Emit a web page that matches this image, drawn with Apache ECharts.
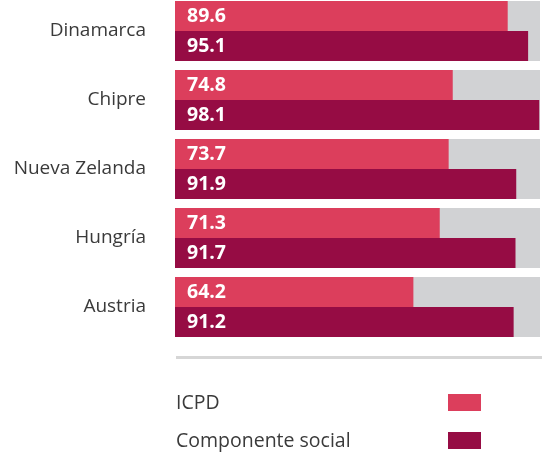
<!DOCTYPE html>
<html><head><meta charset="utf-8">
<script src="https://cdn.jsdelivr.net/npm/echarts@6/dist/echarts.min.js"></script>
<style>html,body{margin:0;padding:0;background:#fff}#c{width:542px;height:455px}</style>
</head><body><div id="c"></div>
<script>
const categories = ['Dinamarca', 'Chipre', 'Nueva Zelanda', 'Hungría', 'Austria'];
const icpd = [89.6, 74.8, 73.7, 71.3, 64.2];
const social = [95.1, 98.1, 91.9, 91.7, 91.2];
const seriesNames = ['ICPD', 'Componente social'];

const FONT = '"Open Sans", "Noto Sans", sans-serif';
const TEXT = '#3a3a3a';
const chart = echarts.init(document.getElementById('c'));
const label = {show: true, position: 'insideLeft', distance: 12, color: '#fff', fontWeight: 'bold', fontSize: 19.5, fontFamily: FONT};
const legendTops = [394, 432];
function legendAt(name, top) {
  return {orient: 'horizontal', left: 448, top: top, align: 'left', itemWidth: 33, itemHeight: 17,
    icon: 'rect', selectedMode: false, padding: 0, formatter: function () { return ''; },
    data: [name]};
}
chart.setOption({
  animation: false,
  grid: {left: 175, top: -3.5, width: 365, height: 345, outerBoundsMode: 'none', containLabel: false},
  xAxis: {type: 'value', min: 0, max: 98.3, show: false},
  yAxis: {type: 'category', data: categories, inverse: true,
    axisLine: {show: false}, axisTick: {show: false}, splitLine: {show: false},
    axisLabel: {margin: 29, color: TEXT, fontSize: 19, fontFamily: FONT}},
  legend: seriesNames.map((n, i) => legendAt(n, legendTops[i])),
  graphic: [
    {type: 'line', shape: {x1: 176, y1: 357.5, x2: 542, y2: 357.5}, style: {stroke: '#d6d6d6', lineWidth: 3}}
  ].concat(seriesNames.map((n, i) => ({
    type: 'text', x: 176, y: legendTops[i] + 9, style: {text: n, fill: TEXT, fontSize: 19.5, fontFamily: FONT, verticalAlign: 'middle', align: 'left'}
  }))),
  series: [
    {name: seriesNames[0], type: 'bar', data: icpd, barGap: '0%', barCategoryGap: '13.3%',
     itemStyle: {color: '#dc3e5c'}, showBackground: true, backgroundStyle: {color: '#d1d2d4'}, label: label},
    {name: seriesNames[1], type: 'bar', data: social,
     itemStyle: {color: '#960c44'}, showBackground: true, backgroundStyle: {color: '#d1d2d4'}, label: label}
  ]
});
</script></body></html>
